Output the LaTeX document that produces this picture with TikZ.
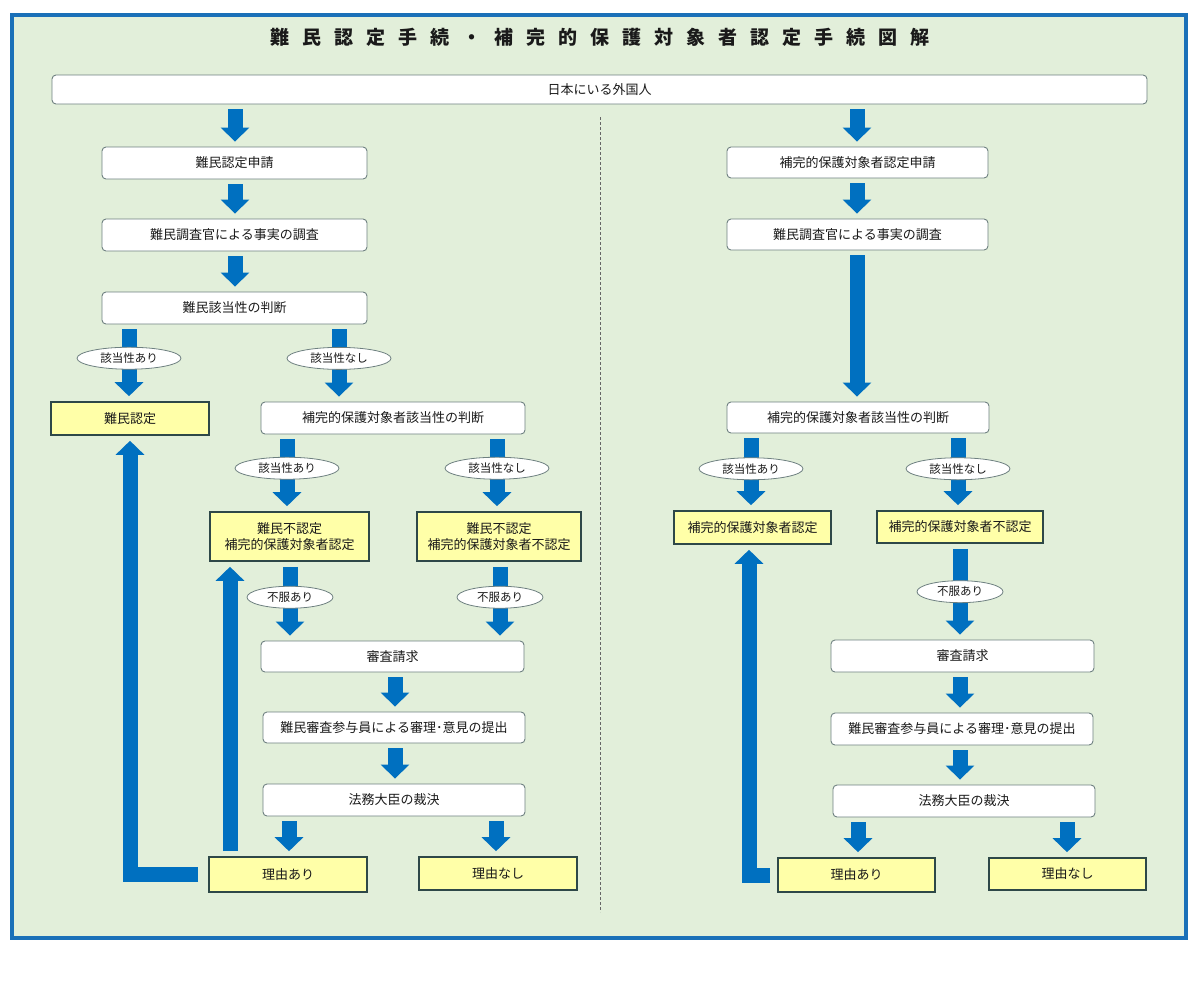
\documentclass[tikz,border=0pt]{standalone}
\usepackage{fontspec}
\setmainfont{Noto Sans CJK JP}
\usetikzlibrary{arrows.meta,shapes.geometric}
\definecolor{bgreen}{HTML}{E2EFDA}
\definecolor{ablue}{HTML}{0070C0}
\definecolor{frameblue}{HTML}{1A70B8}
\definecolor{yel}{HTML}{FFFFA8}
\definecolor{yborder}{HTML}{2E4848}
\definecolor{wborder}{HTML}{6E8080}
\definecolor{txt}{HTML}{1A1A1A}
\newcommand{\tsp}{\hspace{13pt}}
\tikzset{
  box/.style={font=\fontsize{13}{16}\selectfont, text=txt, inner sep=0pt, align=center},
  wbox/.style={box, draw=wborder, line width=0.9pt, rounded corners=4pt, fill=white},
  ybox/.style={box, draw=yborder, line width=1.6pt, fill=yel},
  oval/.style={ellipse, draw=wborder, line width=0.8pt, fill=white, minimum width=104pt, minimum height=22pt, inner sep=0pt, font=\fontsize{11.5}{13}\selectfont, text=txt},
  barrow/.style={draw=ablue, line width=15pt, line join=miter, shorten <=5pt, shorten >=5pt, -{Triangle[width=28pt,length=14pt]}},
  dashline/.style={draw=gray!80!black, line width=0.8pt, dash pattern=on 3pt off 2pt},
}
\begin{document}
\begin{tikzpicture}[x=1pt,y=-1pt]
\useasboundingbox (0,0) rectangle (1200,986);
\fill[white] (0,0) rectangle (1200,986);
\draw[draw=frameblue, line width=4pt, fill=bgreen] (12,15) rectangle (1186,938);

\node[text=txt, font=\fontsize{19}{22}\selectfont\bfseries] (title) at (600,37)
  {難\tsp 民\tsp 認\tsp 定\tsp 手\tsp 続\tsp ・\tsp 補\tsp 完\tsp 的\tsp 保\tsp 護\tsp 対\tsp 象\tsp 者\tsp 認\tsp 定\tsp 手\tsp 続\tsp 図\tsp 解};

% helper x positions
\foreach \x in {129,230,235,287,289,290,339,395,496,497,500,749,751,857,858,958,960,1067}
  \coordinate (c\x) at (\x,0);
\coordinate (d1) at (600,117);
\coordinate (d2) at (600,912);
\draw[dashline] (d1) -- (d2);

% top
\node[wbox, minimum width=1095pt, minimum height=29pt] (top) at (599.5,89.5) {日本にいる外国人};

% left column
\node[wbox, minimum width=265pt, minimum height=32pt] (l1) at (234.5,163) {難民認定申請};
\node[wbox, minimum width=265pt, minimum height=32pt] (l2) at (234.5,235) {難民調査官による事実の調査};
\node[wbox, minimum width=265pt, minimum height=32pt] (l3) at (234.5,308) {難民該当性の判断};
\node[ybox, minimum width=158pt, minimum height=33pt] (l4) at (130,418.5) {難民認定};
\node[wbox, minimum width=264pt, minimum height=32pt] (l5) at (393,418) {補完的保護対象者該当性の判断};
\node[ybox, minimum width=159pt, minimum height=49pt] (l6) at (289.5,536.5) {難民不認定\\補完的保護対象者認定};
\node[ybox, minimum width=164pt, minimum height=49pt] (l7) at (499,536.5) {難民不認定\\補完的保護対象者不認定};
\node[wbox, minimum width=263pt, minimum height=31pt] (l8) at (392.5,656.5) {審査請求};
\node[wbox, minimum width=262pt, minimum height=31pt] (l9) at (394,727.5) {難民審査参与員による審理･意見の提出};
\node[wbox, minimum width=262pt, minimum height=32pt] (l10) at (394,800) {法務大臣の裁決};
\node[ybox, minimum width=158pt, minimum height=35pt] (l11) at (288,874.5) {理由あり};
\node[ybox, minimum width=158pt, minimum height=33pt] (l12) at (498,873.5) {理由なし};

% right column
\node[wbox, minimum width=261pt, minimum height=31pt] (r1) at (857.5,162.5) {補完的保護対象者認定申請};
\node[wbox, minimum width=261pt, minimum height=31pt] (r2) at (857.5,234.5) {難民調査官による事実の調査};
\node[wbox, minimum width=262pt, minimum height=31pt] (r3) at (858,417.5) {補完的保護対象者該当性の判断};
\node[ybox, minimum width=157pt, minimum height=33pt] (r4) at (752.5,527.5) {補完的保護対象者認定};
\node[ybox, minimum width=166pt, minimum height=32pt] (r5) at (960,527) {補完的保護対象者不認定};
\node[wbox, minimum width=263pt, minimum height=32pt] (r6) at (962.5,656) {審査請求};
\node[wbox, minimum width=262pt, minimum height=32pt] (r7) at (962,729) {難民審査参与員による審理･意見の提出};
\node[wbox, minimum width=262pt, minimum height=32pt] (r8) at (964,801) {法務大臣の裁決};
\node[ybox, minimum width=157pt, minimum height=34pt] (r9) at (856.5,875) {理由あり};
\node[ybox, minimum width=157pt, minimum height=32pt] (r10) at (1067.5,874) {理由なし};

% left arrows
\draw[barrow] (top.south -| c235) -- (l1.north -| c235);
\draw[barrow] (l1.south -| c235) -- (l2.north -| c235);
\draw[barrow] (l2.south -| c235) -- (l3.north -| c235);
\draw[barrow] (l3.south -| c129) -- node[oval, pos=0.44] {該当性あり} (l4.north -| c129);
\draw[barrow] (l3.south -| c339) -- node[oval, pos=0.44] {該当性なし} (l5.north -| c339);
\draw[barrow] (l5.south -| c287) -- node[oval, pos=0.44] {該当性あり} (l6.north -| c287);
\draw[barrow] (l5.south -| c497) -- node[oval, pos=0.44] {該当性なし} (l7.north -| c497);
\draw[barrow] (l6.south -| c290) -- node[oval, minimum width=86pt, pos=0.45] {不服あり} (l8.north -| c290);
\draw[barrow] (l7.south -| c500) -- node[oval, minimum width=86pt, pos=0.45] {不服あり} (l8.north -| c500);
\draw[barrow] (l8.south -| c395) -- (l9.north -| c395);
\draw[barrow] (l9.south -| c395) -- (l10.north -| c395);
\draw[barrow] (l10.south -| c289) -- (l11.north -| c289);
\draw[barrow] (l10.south -| c496) -- (l12.north -| c496);
\draw[barrow] (l11.north -| c230) -- (l6.south -| c230);
\draw[barrow, shorten <=10pt] (l11.west) -| (l4.south);

% right arrows
\draw[barrow] (top.south -| c857) -- (r1.north -| c857);
\draw[barrow] (r1.south -| c857) -- (r2.north -| c857);
\draw[barrow] (r2.south -| c857) -- (r3.north -| c857);
\draw[barrow] (r3.south -| c751) -- node[oval, pos=0.46] {該当性あり} (r4.north -| c751);
\draw[barrow] (r3.south -| c958) -- node[oval, pos=0.46] {該当性なし} (r5.north -| c958);
\draw[barrow] (r5.south -| c960) -- node[oval, minimum width=86pt, pos=0.5] {不服あり} (r6.north -| c960);
\draw[barrow] (r6.south -| c960) -- (r7.north -| c960);
\draw[barrow] (r7.south -| c960) -- (r8.north -| c960);
\draw[barrow] (r8.south -| c858) -- (r9.north -| c858);
\draw[barrow] (r8.south -| c1067) -- (r10.north -| c1067);
\draw[barrow, shorten <=7pt] (r9.west) -| (r4.south -| c749);
\end{tikzpicture}
\end{document}
